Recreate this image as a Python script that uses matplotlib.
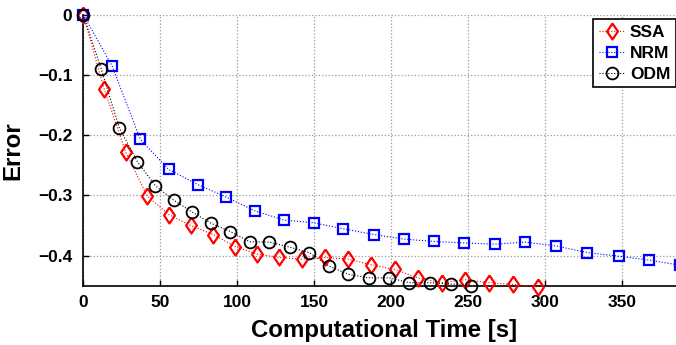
import matplotlib.pyplot as plt
import numpy as np

plt.rcParams['font.family'] = ['Liberation Sans', 'DejaVu Sans']
plt.rcParams['font.weight'] = 'bold'

# data (time in s, error)
ssa_t = [0, 13.6, 27.5, 41.4, 55.6, 69.7, 84.4, 98.7, 112.8, 127.3, 141.8, 156.9,
         172.1, 186.6, 202.2, 217.3, 232.7, 248.0, 263.4, 279.2, 295.3]
ssa_err = [0, -0.124, -0.228, -0.301, -0.332, -0.350, -0.365, -0.385, -0.3975, -0.403, -0.406, -0.403,
           -0.406, -0.415, -0.423, -0.437, -0.445, -0.440, -0.445, -0.448, -0.452]

nrm_t = [0, 18.8, 37.0, 55.4, 74.3, 92.9, 111.7, 130.5, 149.6, 168.8, 188.6, 208.0,
         227.5, 247.4, 267.3, 287.0, 307.0, 327.3, 347.6, 367.5, 387.5]
nrm_err = [0, -0.0857, -0.207, -0.257, -0.282, -0.303, -0.326, -0.341, -0.3455, -0.3555, -0.365, -0.3726,
           -0.3765, -0.379, -0.381, -0.3776, -0.384, -0.395, -0.401, -0.4075, -0.416]

odm_t = [0, 11.7, 23.4, 35.1, 46.8, 58.7, 70.8, 83.1, 95.5, 108.0, 120.8, 134.0,
         146.8, 159.3, 172.1, 185.3, 198.7, 211.7, 225.1, 238.6, 252.0]
odm_err = [0, -0.0907, -0.188, -0.244, -0.284, -0.308, -0.328, -0.3466, -0.360, -0.377, -0.3776, -0.386,
           -0.395, -0.417, -0.431, -0.437, -0.437, -0.445, -0.445, -0.447, -0.450]

xticks = [0, 50, 100, 150, 200, 250, 300, 350]
yticks = [0, -0.1, -0.2, -0.3, -0.4]
ytick_labels = ['0', '\u22120.1', '\u22120.2', '\u22120.3', '\u22120.4']

# matlab-like diamond, a bit wider than mpl's thin diamond
diamond = [(0, 1), (0.68, 0), (0, -1), (-0.68, 0), (0, 1)]

fig = plt.figure(figsize=(6.76, 3.45), dpi=100)
# axes run past the right edge of the picture (cropped figure)
ax = fig.add_axes([83.3 / 676, 1 - 285.7 / 345, (683.9 - 83.3) / 676, (285.7 - 14.7) / 345])

ax.plot(ssa_t, ssa_err, ':', color='red', marker=diamond, markersize=11.5, markeredgewidth=1.6,
        markerfacecolor='none', linewidth=0.8, label='SSA', clip_on=False, zorder=3)
ax.plot(nrm_t, nrm_err, ':', color='blue', marker='s', markersize=7.2, markeredgewidth=1.6,
        markerfacecolor='none', linewidth=0.8, label='NRM', clip_on=False, zorder=3)
ax.plot(odm_t, odm_err, ':', color='black', marker='o', markersize=8.5, markeredgewidth=1.3,
        markerfacecolor='none', linewidth=0.8, label='ODM', clip_on=False, zorder=3)

ax.set_xlim(0, 390)
ax.set_ylim(-0.45, 0)
ax.set_xticks(xticks)
ax.set_yticks(yticks)
ax.set_yticklabels(ytick_labels)

ax.grid(True, linestyle=':', color='#999999', linewidth=0.9)
ax.set_axisbelow(True)
for s in ['top', 'right']:
    ax.spines[s].set_visible(False)
for s in ['left', 'bottom']:
    ax.spines[s].set_linewidth(1.2)
ax.tick_params(direction='in', length=4, width=1.0, labelsize=12.5)
ax.tick_params(axis='x', pad=6.5)
ax.tick_params(axis='y', pad=8)
for lab in ax.get_xticklabels() + ax.get_yticklabels():
    lab.set_fontweight('bold')

ax.set_xlabel('Computational Time [s]', fontsize=17.3, fontweight='bold', labelpad=7)
ax.set_ylabel('Error', fontsize=17.3, fontweight='bold', labelpad=10)

leg = fig.legend(loc='upper right', bbox_to_anchor=(675.5 / 676, 1 - 19.3 / 345),
                 prop={'weight': 'bold', 'size': 12.5}, fancybox=False, edgecolor='black',
                 framealpha=1, handlelength=1.5, handletextpad=0.3, borderpad=0.3,
                 labelspacing=0.35, borderaxespad=0)
leg.get_frame().set_linewidth(1.2)

fig.savefig('out.png', dpi=100)
